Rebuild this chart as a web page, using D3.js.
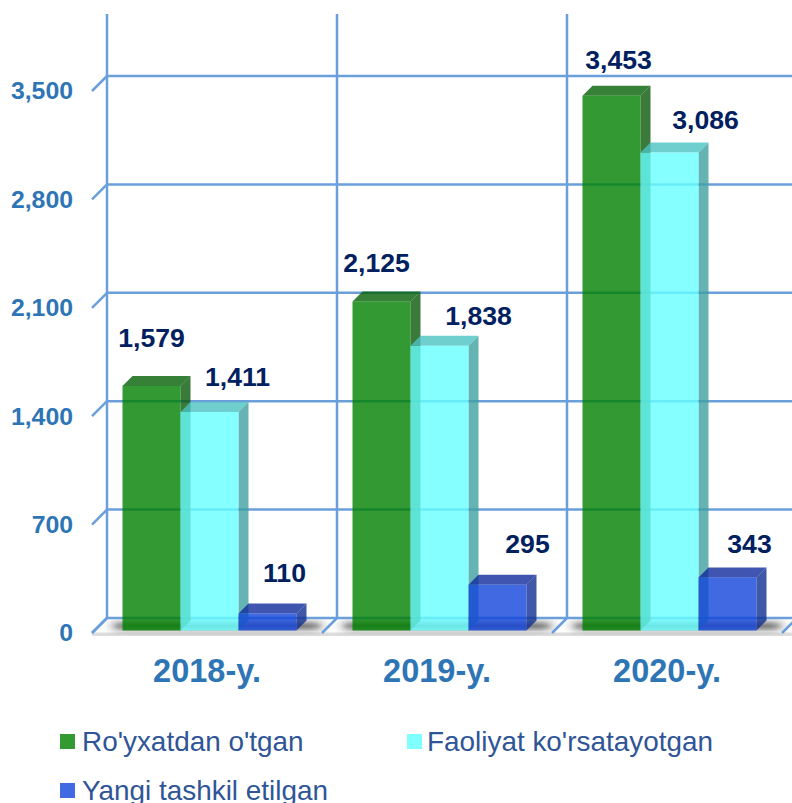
<!DOCTYPE html>
<html>
<head>
<meta charset="utf-8">
<script src="https://cdn.jsdelivr.net/npm/d3@7"></script>
<style>
    html, body { margin: 0; padding: 0; background: #fff; overflow: hidden; }
    svg { display: block; font-family: "Liberation Sans", Arial, sans-serif; }
    .y-axis text { font-size: 24.8px; font-weight: bold; fill: #2e75b6; }
    .x-axis text { font-size: 32.5px; font-weight: bold; fill: #2e75b6; }
    .value { font-size: 26.6px; font-weight: bold; fill: #002060; text-anchor: middle; dominant-baseline: central; }
    .legend-label { font-size: 27.9px; fill: #2f5597; }
</style>
</head>
<body>
<svg id="chart" width="792" height="803"></svg>
<script>
// Data
const years = ['2018-y.', '2019-y.', '2020-y.'];
const seriesNames = ["Ro'yxatdan o'tgan", "Faoliyat ko'rsatayotgan", 'Yangi tashkil etilgan'];
const registered = [1579, 2125, 3453];
const active = [1411, 1838, 3086];
const newlyFounded = [110, 295, 343];
const yTicks = [0, 700, 1400, 2100, 2800, 3500];

// Layout
const width = 792;
const height = 803;
const wallDepth = 15;
const barDepth = 10;
const barInset = 2.5;

// Faces are semi transparent so grid lines and neighbours show through
const faceColors = [
    {front: '#007f00', side: '#095909', top: '#056005', swatch: '#339933'},
    {front: '#66ffff', side: '#40a0a0', top: '#4bc3c3', swatch: '#80ffff'},
    {front: '#1144d9', side: '#0f2e92', top: '#102b9c', swatch: '#4169e1'}
];
const gridColor = '#6a9fdb';

// Value labels were placed by hand in the original, [dx, dy] from the bar top
const labelOffsets = [
    [[0, -48], [28, -35], [17, -40]],
    [[-5, -38], [39, -30], [30, -41]],
    [[7, -36], [36, -33], [22, -33]]
];

const seriesValues = [registered, active, newlyFounded];

const x = d3.scaleBand().domain(years).range([92, 782]);
const xSeries = d3.scaleBand().domain(seriesNames).range([30.5, 204.5]);
const y = d3.scaleLinear().domain([0, 3500]).range([618, 76]);

const svg = d3.select('#chart');

const defs = svg.append('defs');
defs.append('filter').attr('id', 'blur')
    .attr('x', '-20%').attr('y', '-150%').attr('width', '140%').attr('height', '400%')
    .append('feGaussianBlur').attr('stdDeviation', '6 3');

// Floor
const floorFront = y(0) + wallDepth;
svg.append('rect')
    .attr('x', x.range()[0]).attr('y', floorFront - 0.5)
    .attr('width', width - x.range()[0]).attr('height', 3.5)
    .attr('fill', '#dddddd');

svg.selectAll('.shadow')
    .data(years)
    .enter().append('rect')
    .attr('class', 'shadow')
    .attr('x', d => x(d) + 22)
    .attr('y', y(0) + 5)
    .attr('width', 206)
    .attr('height', 6)
    .attr('fill', '#222')
    .attr('fill-opacity', 0.85)
    .attr('filter', 'url(#blur)');

// Back wall grid
svg.selectAll('.grid-h')
    .data(yTicks)
    .enter().append('line')
    .attr('class', 'grid-h')
    .attr('x1', x.range()[0] + wallDepth).attr('x2', width)
    .attr('y1', d => y(d)).attr('y2', d => y(d))
    .attr('stroke', gridColor).attr('stroke-width', 2.5);

svg.selectAll('.grid-tick')
    .data(yTicks)
    .enter().append('line')
    .attr('class', 'grid-tick')
    .attr('x1', x.range()[0]).attr('x2', x.range()[0] + wallDepth)
    .attr('y1', d => y(d) + wallDepth).attr('y2', d => y(d))
    .attr('stroke', gridColor).attr('stroke-width', 2.5);

svg.selectAll('.grid-v')
    .data(years)
    .enter().append('line')
    .attr('class', 'grid-v')
    .attr('x1', d => x(d) + wallDepth).attr('x2', d => x(d) + wallDepth)
    .attr('y1', 14).attr('y2', y(0))
    .attr('stroke', gridColor).attr('stroke-width', 2.5);

svg.selectAll('.floor-sep')
    .data(years.map(d => x(d)).concat(x.range()[1]))
    .enter().append('line')
    .attr('class', 'floor-sep')
    .attr('x1', d => d).attr('x2', d => d + wallDepth)
    .attr('y1', floorFront).attr('y2', y(0))
    .attr('stroke', gridColor).attr('stroke-width', 2.5);

// Bars, 3 faces each
const barData = [];
years.forEach((year, i) => {
    seriesNames.forEach((name, s) => {
        barData.push({year, name, s, i, value: seriesValues[s][i]});
    });
});

const barW = xSeries.bandwidth();
const baseY = y(0) + wallDepth - barInset;
const barTop = d => y(d.value) + wallDepth - barInset;
const barLeft = d => x(d.year) + xSeries(d.name);

const bars = svg.selectAll('.bar')
    .data(barData)
    .enter().append('g')
    .attr('class', 'bar')
    .attr('fill-opacity', 0.8);

bars.append('polygon')
    .attr('fill', d => faceColors[d.s].side)
    .attr('points', d => {
        const r = barLeft(d) + barW;
        return [[r, barTop(d)], [r + barDepth, barTop(d) - barDepth], [r + barDepth, baseY - barDepth], [r, baseY]].join(' ');
    });

bars.append('polygon')
    .attr('fill', d => faceColors[d.s].top)
    .attr('points', d => {
        const l = barLeft(d);
        const t = barTop(d);
        return [[l, t], [l + barDepth, t - barDepth], [l + barW + barDepth, t - barDepth], [l + barW, t]].join(' ');
    });

bars.append('rect')
    .attr('fill', d => faceColors[d.s].front)
    .attr('x', barLeft)
    .attr('y', barTop)
    .attr('width', barW)
    .attr('height', d => baseY - barTop(d));

// Value labels
svg.selectAll('.value')
    .data(barData)
    .enter().append('text')
    .attr('class', 'value')
    .attr('x', d => barLeft(d) + barW / 2 + labelOffsets[d.i][d.s][0])
    .attr('y', d => barTop(d) + labelOffsets[d.i][d.s][1])
    .text(d => d3.format(',')(d.value));

// Axes
const yAxis = d3.axisLeft(y)
    .tickValues(yTicks)
    .tickFormat(d3.format(','))
    .tickSize(0)
    .tickPadding(0);

svg.append('g')
    .attr('class', 'y-axis')
    .attr('transform', `translate(73,${wallDepth})`)
    .call(yAxis)
    .call(g => g.select('.domain').remove());

const xAxis = d3.axisBottom(x).tickSize(0).tickPadding(0);

svg.append('g')
    .attr('class', 'x-axis')
    .attr('transform', 'translate(0,659)')
    .call(xAxis)
    .call(g => g.select('.domain').remove())
    .selectAll('text').attr('dy', '0.71em');

// Legend
const legendPos = [[60, 734], [407, 734], [60, 783]];
const legend = svg.selectAll('.legend-item')
    .data(seriesNames)
    .enter().append('g')
    .attr('class', 'legend-item')
    .attr('transform', (d, i) => `translate(${legendPos[i][0]},${legendPos[i][1]})`);

legend.append('rect')
    .attr('width', 15).attr('height', 15)
    .attr('fill', (d, i) => faceColors[i].swatch);

legend.append('text')
    .attr('class', 'legend-label')
    .attr('x', (d, i) => i === 1 ? 20 : 22)
    .attr('y', 17)
    .text(d => d);
</script>
</body>
</html>
